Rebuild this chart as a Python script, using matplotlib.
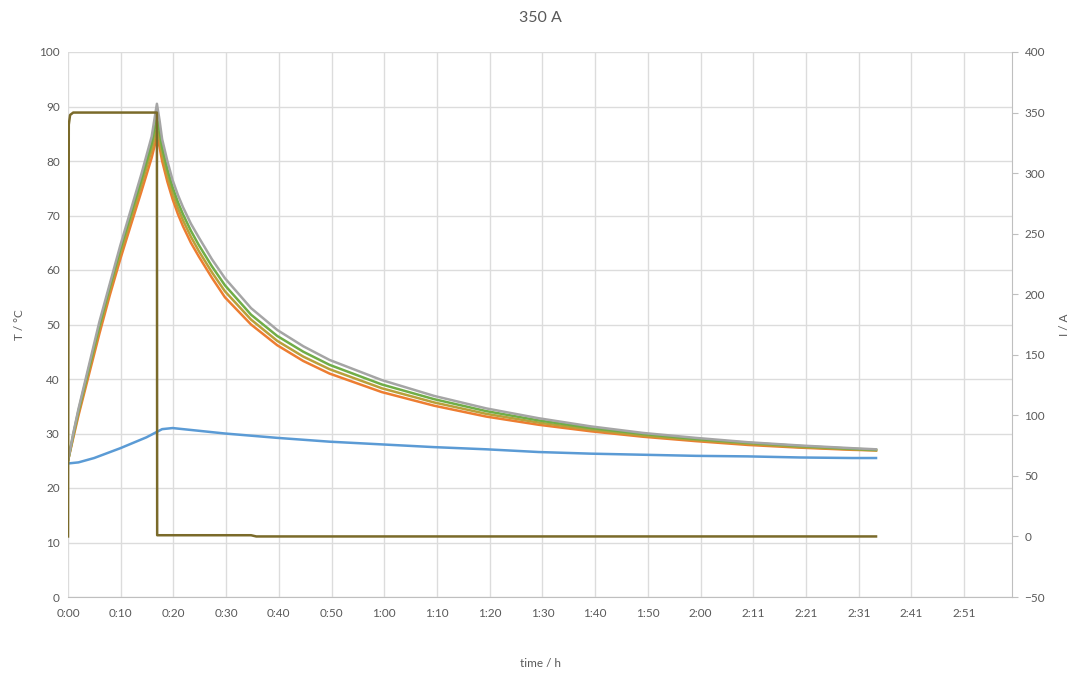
import numpy as np
import matplotlib
matplotlib.use('Agg')
import matplotlib.pyplot as plt

plt.rcParams['font.family'] = ['Lato', 'DejaVu Sans']

# time in minutes
t_rise = [0, 1, 2, 4, 6, 8, 10, 12, 14, 16, 17]
t_fall = [17.5, 18, 19, 20, 21, 22, 23.5, 25, 27.5, 30, 35, 40, 45, 50, 60, 70, 80, 90, 100, 110, 120, 130, 140, 150, 154.5]

gray_rise = [25, 30, 34.5, 42.5, 50.5, 57.5, 64.5, 71, 77.5, 84.5, 90.5]
gray_fall = [87.5, 84, 80, 76.5, 73.8, 71.5, 68.5, 66, 62, 58.5, 53, 49, 46, 43.5, 39.8, 36.9, 34.6, 32.8, 31.3, 30.1, 29.2, 28.4, 27.8, 27.3, 27.1]

green_rise = [25, 29.8, 34.2, 42, 49.8, 57, 63.8, 70.2, 76.5, 83.2, 88]
green_fall = [85.5, 82.5, 78.5, 75.2, 72.5, 70.2, 67.2, 64.6, 60.7, 57.2, 51.8, 47.9, 45, 42.6, 39, 36.3, 34.1, 32.4, 31, 29.9, 29.0, 28.3, 27.7, 27.2, 27.0]

gold_rise = [25, 29.5, 33.8, 41.5, 49.2, 56.3, 63, 69.3, 75.5, 82, 86]
gold_fall = [84, 81.2, 77.3, 74.1, 71.4, 69.1, 66.1, 63.5, 59.6, 56.1, 50.9, 47, 44.1, 41.8, 38.3, 35.7, 33.6, 32, 30.7, 29.6, 28.8, 28.1, 27.5, 27.1, 26.9]

orange_rise = [25, 29.2, 33.3, 40.8, 48.3, 55.4, 62, 68.2, 74.3, 80.6, 84.5]
orange_fall = [82.6, 80, 76.2, 73, 70.3, 68, 65, 62.5, 58.6, 55, 50, 46.2, 43.3, 41, 37.6, 35.1, 33.1, 31.6, 30.4, 29.4, 28.6, 27.9, 27.4, 27.0, 26.9]

t_blue = [0, 2, 5, 10, 15, 18, 20, 25, 30, 40, 50, 60, 70, 80, 90, 100, 110, 120, 130, 140, 150, 154.5]
blue = [24.5, 24.7, 25.5, 27.3, 29.3, 30.8, 31, 30.5, 30, 29.2, 28.5, 28, 27.5, 27.1, 26.6, 26.3, 26.1, 25.9, 25.8, 25.6, 25.5, 25.5]

t_cur = [0, 0.15, 0.4, 1.0, 17.0, 17.05, 35, 36, 154.5]
current = [0, 340, 348, 350, 350, 1, 1, 0, 0]

tick_step = 10.08
tick_labels = ['0:00', '0:10', '0:20', '0:30', '0:40', '0:50', '1:00', '1:10', '1:20',
               '1:30', '1:40', '1:50', '2:00', '2:11', '2:21', '2:31', '2:41', '2:51']

txt = '#595959'
grid_c = '#DCDCDC'

fig = plt.figure(figsize=(10.75, 6.77), dpi=100)
ax = fig.add_axes([68/1075, 1-597/677, (1012-68)/1075, (597-52)/677])
ax2 = ax.twinx()

ax.plot(t_blue, blue, color='#5B9BD5', lw=1.8)
ax.plot(t_rise + t_fall, orange_rise + orange_fall, color='#ED7D31', lw=1.8)
ax.plot(t_rise + t_fall, gold_rise + gold_fall, color='#B8A03A', lw=1.8)
ax.plot(t_rise + t_fall, green_rise + green_fall, color='#70AD47', lw=1.8)
ax.plot(t_rise + t_fall, gray_rise + gray_fall, color='#A5A5A5', lw=1.8)
ax2.plot(t_cur, current, color='#7A6A2A', lw=1.8)

ax.set_xlim(0, 180.5)
ax.set_ylim(0, 100)
ax2.set_ylim(-50, 400)
ax.set_yticks(np.arange(0, 101, 10))
ax2.set_yticks(np.arange(-50, 401, 50))
xt = [i * tick_step for i in range(len(tick_labels))]
ax.set_xticks(xt)
ax.set_xticklabels(tick_labels)

ax.grid(True, color=grid_c, lw=1)
ax.set_axisbelow(True)
for a in (ax, ax2):
    for s in a.spines.values():
        s.set_visible(False)
ax2.spines['right'].set_visible(True)
ax2.spines['right'].set_color('#BFBFBF')
ax.spines['bottom'].set_visible(True)
ax.spines['bottom'].set_color('#BFBFBF')

ax.tick_params(axis='both', length=0, labelsize=8.5, colors=txt, pad=6)
ax.tick_params(axis='x', pad=8)
ax2.tick_params(axis='y', length=4, color='#BFBFBF', labelsize=8.5, colors=txt, pad=5)

ax.set_ylabel('T / °C', color=txt, fontsize=8.5, labelpad=10)
ax2.set_ylabel('I / A', color=txt, fontsize=8.5, labelpad=10)
ax.set_xlabel('time / h', color=txt, fontsize=8.5, labelpad=28)
fig.text(540/1075, 1-18/677, '350 A', ha='center', va='center', fontsize=11.5, color=txt)

fig.savefig('out.png', dpi=100)
